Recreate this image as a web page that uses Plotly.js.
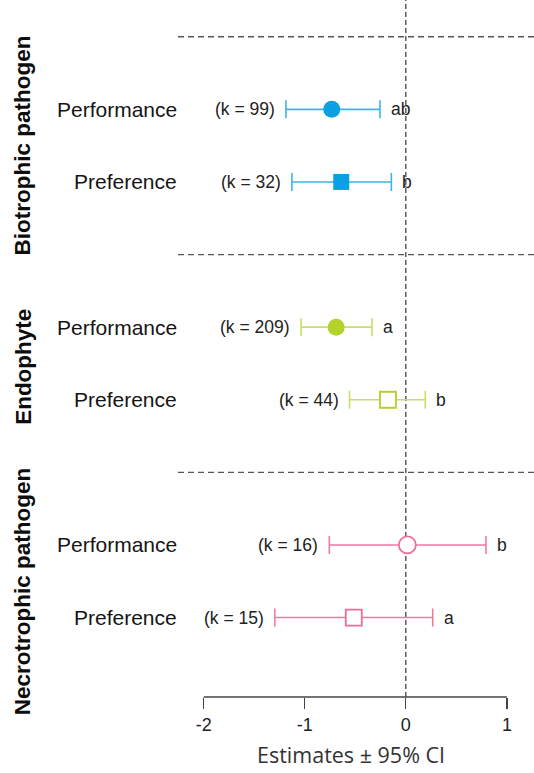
<!DOCTYPE html>
<html>
<head>
<meta charset="utf-8">
<script src="https://cdn.plot.ly/plotly-3.0.1.min.js"></script>
<style>html,body{margin:0;padding:0;background:#fff;}#chart{width:534px;height:773px;}</style>
</head>
<body>
<div id="chart"></div>
<script>
// ---- data ----
const groups = ["Biotrophic pathogen", "Endophyte", "Necrotrophic pathogen"];
const measures = ["Performance", "Preference"];
const kCounts = [[99, 32], [209, 44], [16, 15]];
const estimates = [[-0.733, -0.639], [-0.689, -0.177], [0.015, -0.515]];
const lowerCI = [[-1.186, -1.127], [-1.036, -0.557], [-0.757, -1.296]];
const upperCI = [[-0.256, -0.143], [-0.335, 0.193], [0.793, 0.266]];
const letters = [["ab", "b"], ["a", "b"], ["b", "a"]];
const xTicks = [-2, -1, 0, 1];
const xTickLabels = ["-2", "-1", "0", "1"];
const separators = [9, 6, 3];

// ---- styling ----
const markerColors = ["#0ba0e2", "#b3d22a", "#ee6f96"];
const barColors = ["#3fb2e8", "#c7de6a", "#f07b9f"];
const filled = [[true, true], [true, false], [false, false]];
const symbols = ["circle", "square"];
const groupLabelY = [7.5, 4.45, 1.36];

const rowY = (g, m) => 8 - 3 * g - m;

const traces = [];
const annotations = [];
groups.forEach((gName, g) => {
  measures.forEach((mName, m) => {
    const y = rowY(g, m);
    const est = estimates[g][m];
    const isFilled = filled[g][m];
    traces.push({
      type: "scatter",
      mode: "markers",
      x: [est],
      y: [y],
      error_x: {
        type: "data",
        symmetric: false,
        array: [upperCI[g][m] - est],
        arrayminus: [est - lowerCI[g][m]],
        color: barColors[g],
        thickness: 1.6,
        width: 9
      },
      marker: {
        symbol: symbols[m],
        size: m === 0 ? 17 : 16,
        color: isFilled ? markerColors[g] : "#ffffff",
        line: { color: markerColors[g], width: isFilled ? 0 : 1.8 }
      },
      hoverinfo: "skip"
    });
    // row label
    annotations.push({
      xref: "paper", yref: "y", x: 0, y: y, xanchor: "right", yanchor: "middle",
      text: mName, showarrow: false, xshift: 1,
      font: { family: "Liberation Sans, Arial, sans-serif", size: 21, color: "#151515" }
    });
    // k label
    annotations.push({
      xref: "x", yref: "y", x: lowerCI[g][m], y: y, xanchor: "right", yanchor: "middle",
      text: "(k = " + kCounts[g][m] + ")", showarrow: false, xshift: -9,
      font: { family: "Liberation Sans, Arial, sans-serif", size: 17.5, color: "#222" }
    });
    // letter label
    annotations.push({
      xref: "x", yref: "y", x: upperCI[g][m], y: y, xanchor: "left", yanchor: "middle",
      text: letters[g][m], showarrow: false, xshift: 9,
      font: { family: "Liberation Sans, Arial, sans-serif", size: 17.5, color: "#222" }
    });
  });
  // group label
  annotations.push({
    xref: "paper", yref: "y", x: -0.436, y: groupLabelY[g], xanchor: "center", yanchor: "middle",
    text: "<b>" + gName + "</b>", textangle: -90, showarrow: false,
    font: { family: "Liberation Sans, Arial, sans-serif", size: 22.5, color: "#0d0d0d" }
  });
});

// axis title
annotations.push({
  xref: "x", yref: "paper", x: -0.54, y: -0.1062, xanchor: "center", yanchor: "bottom",
  text: "Estimates ± 95% CI", showarrow: false,
  font: { family: "Open Sans, sans-serif", size: 21.5, color: "#333" }
});

const shapes = [];
shapes.push({
  type: "line", xref: "x", yref: "paper", x0: 0, x1: 0, y0: 0, y1: 1, layer: "below",
  line: { color: "#444", width: 1.3, dash: "5px,3px" }
});
separators.forEach(s => shapes.push({
  type: "line", xref: "paper", yref: "y", x0: 0, x1: 1, y0: s, y1: s, layer: "below",
  line: { color: "#555", width: 1.3, dash: "6px,4px" }
}));
shapes.push({
  type: "line", xref: "x", yref: "paper", x0: xTicks[0], x1: xTicks[xTicks.length - 1], y0: 0, y1: 0,
  line: { color: "#444", width: 1.3 }
});

const layout = {
  width: 534, height: 773,
  margin: { l: 178, r: 0, t: 0, b: 76, pad: 0 },
  paper_bgcolor: "#fff", plot_bgcolor: "#fff",
  showlegend: false,
  xaxis: {
    range: [-2.254, 1.268], tickvals: xTicks, ticktext: xTickLabels,
    ticks: "outside", ticklen: 11, tickwidth: 1.3, tickcolor: "#444",
    showline: false, showgrid: false, zeroline: false, fixedrange: true,
    tickfont: { family: "Liberation Sans, Arial, sans-serif", size: 18, color: "#222" }
  },
  yaxis: { range: [-0.094, 9.506], visible: false, showgrid: false, zeroline: false, fixedrange: true },
  shapes: shapes,
  annotations: annotations
};

Plotly.newPlot("chart", traces, layout, { staticPlot: true, displayModeBar: false });
</script>
</body>
</html>
